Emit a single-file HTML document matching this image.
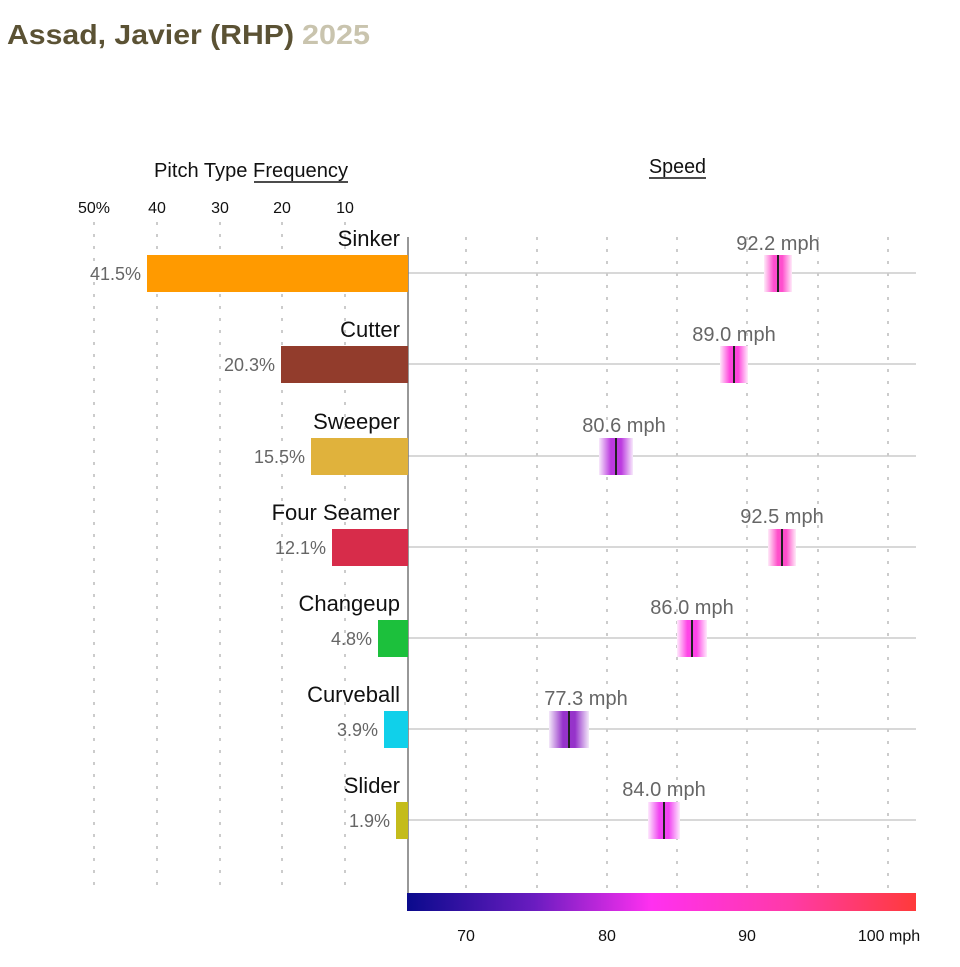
<!DOCTYPE html>
<html><head><meta charset="utf-8"><style>
body{margin:0;background:#fff;width:960px;height:967px;overflow:hidden}
svg{display:block}
.n{font-family:"Liberation Sans Narrow","Liberation Sans",sans-serif}
</style></head><body>
<svg width="960" height="967" xmlns="http://www.w3.org/2000/svg">
<defs>
<linearGradient id="cb" x1="0" x2="1">
<stop offset="0" stop-color="#0a0a8c"/><stop offset="0.25" stop-color="#6a1cc0"/><stop offset="0.48" stop-color="#ff30f0"/><stop offset="0.75" stop-color="#ff3aa8"/><stop offset="1" stop-color="#ff3a3a"/></linearGradient>
<linearGradient id="fade" x1="0" x2="1">
<stop offset="0" stop-color="#fff" stop-opacity="0.9"/><stop offset="0.35" stop-color="#fff" stop-opacity="0.1"/><stop offset="0.65" stop-color="#fff" stop-opacity="0.1"/><stop offset="1" stop-color="#fff" stop-opacity="0.9"/></linearGradient>
</defs>
<text x="7" y="44" font-family="Liberation Sans,sans-serif" font-weight="bold" font-size="28" fill="#5b5234" textLength="287" lengthAdjust="spacingAndGlyphs">Assad, Javier (RHP)</text>
<text x="302" y="44" font-family="Liberation Sans,sans-serif" font-weight="bold" font-size="28" fill="#c9c4ae" textLength="68" lengthAdjust="spacingAndGlyphs">2025</text>
<text x="154" y="177" class="n" font-size="20" fill="#111" textLength="194" lengthAdjust="spacingAndGlyphs">Pitch Type Frequency</text>
<line x1="254" y1="182" x2="348" y2="182" stroke="#111" stroke-width="1.5"/>
<text x="649" y="173" class="n" font-size="20" fill="#111" textLength="57" lengthAdjust="spacingAndGlyphs">Speed</text>
<line x1="649" y1="178" x2="706" y2="178" stroke="#111" stroke-width="1.5"/>
<g font-family="Liberation Sans,sans-serif" font-size="16" fill="#111" text-anchor="middle">
<text x="94" y="213">50%</text><text x="157" y="213">40</text><text x="220" y="213">30</text><text x="282" y="213">20</text><text x="345" y="213">10</text>
</g>
<g stroke="#999" stroke-width="1" stroke-dasharray="3,9">
<line x1="94" y1="222" x2="94" y2="888"/><line x1="157" y1="222" x2="157" y2="888"/><line x1="220" y1="222" x2="220" y2="888"/><line x1="282" y1="222" x2="282" y2="888"/><line x1="345" y1="222" x2="345" y2="888"/>
<line x1="466" y1="237" x2="466" y2="892"/><line x1="537" y1="237" x2="537" y2="892"/><line x1="607" y1="237" x2="607" y2="892"/><line x1="677" y1="237" x2="677" y2="892"/><line x1="747" y1="237" x2="747" y2="892"/><line x1="818" y1="237" x2="818" y2="892"/><line x1="888" y1="237" x2="888" y2="892"/>
</g>
<g stroke="#ccc" stroke-width="1.5">
<line x1="408" y1="273" x2="916" y2="273"/><line x1="408" y1="364" x2="916" y2="364"/><line x1="408" y1="456" x2="916" y2="456"/><line x1="408" y1="547" x2="916" y2="547"/><line x1="408" y1="638" x2="916" y2="638"/><line x1="408" y1="729" x2="916" y2="729"/><line x1="408" y1="820" x2="916" y2="820"/>
</g>
<line x1="408" y1="237" x2="408" y2="910" stroke="#777" stroke-width="1.5"/>
<g>
<rect x="147" y="255" width="261" height="37" fill="#ff9a00"/>
<rect x="281" y="346" width="127" height="37" fill="#923c2c"/>
<rect x="311" y="438" width="97" height="37" fill="#e0b23c"/>
<rect x="332" y="529" width="76" height="37" fill="#d72c4a"/>
<rect x="378" y="620" width="30" height="37" fill="#1cc03c"/>
<rect x="384" y="711" width="24" height="37" fill="#10d0ea"/>
<rect x="396" y="802" width="12" height="37" fill="#c4bc1c"/>
</g>
<g class="n" font-size="22" fill="#111" text-anchor="end">
<text x="400" y="246">Sinker</text><text x="400" y="337">Cutter</text><text x="400" y="429">Sweeper</text><text x="400" y="520">Four Seamer</text><text x="400" y="611">Changeup</text><text x="400" y="702">Curveball</text><text x="400" y="793">Slider</text>
</g>
<g font-family="Liberation Sans,sans-serif" font-size="18" fill="#666" text-anchor="end">
<text x="141" y="280">41.5%</text><text x="275" y="371">20.3%</text><text x="305" y="463">15.5%</text><text x="326" y="554">12.1%</text><text x="372" y="645">4.8%</text><text x="378" y="736">3.9%</text><text x="390" y="827">1.9%</text>
</g>
<g font-family="Liberation Sans,sans-serif" font-size="20" fill="#666" text-anchor="middle">
<text x="778" y="250">92.2 mph</text><text x="734" y="341">89.0 mph</text><text x="624" y="432">80.6 mph</text><text x="782" y="523">92.5 mph</text><text x="692" y="614">86.0 mph</text><text x="586" y="705">77.3 mph</text><text x="664" y="796">84.0 mph</text>
</g>
<g>
<rect x="764" y="255" width="28" height="37" fill="#ff3ac8"/><rect x="764" y="255" width="28" height="37" fill="url(#fade)"/><line x1="778" y1="255" x2="778" y2="292" stroke="#222" stroke-width="2"/>
<rect x="720" y="346" width="28" height="37" fill="#ff30d8"/><rect x="720" y="346" width="28" height="37" fill="url(#fade)"/><line x1="734" y1="346" x2="734" y2="383" stroke="#222" stroke-width="2"/>
<rect x="599" y="438" width="34" height="37" fill="#b424dc"/><rect x="599" y="438" width="34" height="37" fill="url(#fade)"/><line x1="616" y1="438" x2="616" y2="475" stroke="#222" stroke-width="2"/>
<rect x="768" y="529" width="28" height="37" fill="#ff3ac4"/><rect x="768" y="529" width="28" height="37" fill="url(#fade)"/><line x1="782" y1="529" x2="782" y2="566" stroke="#222" stroke-width="2"/>
<rect x="677" y="620" width="30" height="37" fill="#ff30e4"/><rect x="677" y="620" width="30" height="37" fill="url(#fade)"/><line x1="692" y1="620" x2="692" y2="657" stroke="#222" stroke-width="2"/>
<rect x="549" y="711" width="40" height="37" fill="#8a1cc4"/><rect x="549" y="711" width="40" height="37" fill="url(#fade)"/><line x1="569" y1="711" x2="569" y2="748" stroke="#222" stroke-width="2"/>
<rect x="648" y="802" width="32" height="37" fill="#f030f0"/><rect x="648" y="802" width="32" height="37" fill="url(#fade)"/><line x1="664" y1="802" x2="664" y2="839" stroke="#222" stroke-width="2"/>
</g>
<rect x="407" y="893" width="509" height="18" fill="url(#cb)"/>
<g font-family="Liberation Sans,sans-serif" font-size="16" fill="#111" text-anchor="middle">
<text x="466" y="941">70</text><text x="607" y="941">80</text><text x="747" y="941">90</text><text x="889" y="941">100 mph</text>
</g>
</svg>
</body></html>
